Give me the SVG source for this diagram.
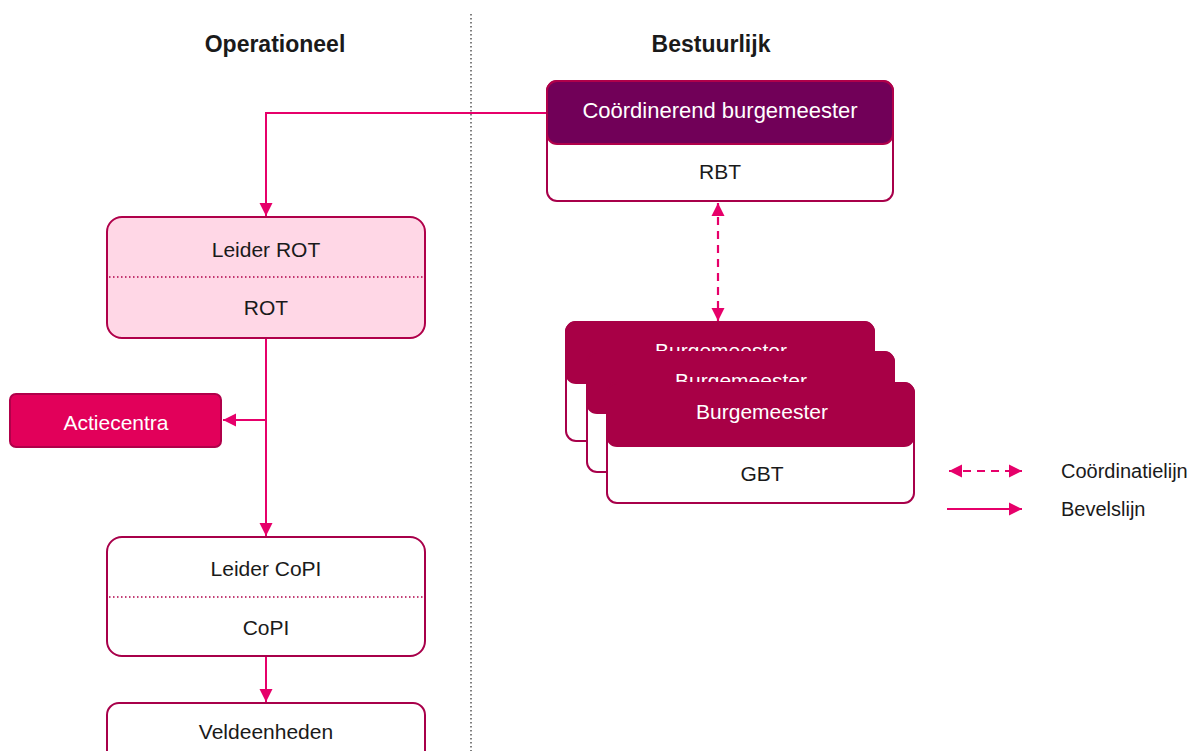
<svg xmlns="http://www.w3.org/2000/svg" width="1194" height="751" viewBox="0 0 1194 751">
<style>
text{font-family:"Liberation Sans",Arial,sans-serif;font-size:21px;fill:#1a1a1a;text-anchor:middle}
.hdr{font-weight:bold;font-size:23px}
.w{fill:#ffffff}
.leg{text-anchor:start;font-size:20px}
.body{fill:#ffffff;stroke:#a8004a;stroke-width:2}
.crim{fill:#a80046;stroke:#a80046;stroke-width:2}
.purp{fill:#710058;stroke:#b0004a;stroke-width:2}
.pale{fill:#ffd7e6;stroke:#b0004a;stroke-width:2}
.sep{stroke:#b0004a;stroke-width:1.5;stroke-dasharray:1.5 2.5;fill:none}
.ln{stroke:#e6006a;stroke-width:2;fill:none}
.dash{stroke:#e6006a;stroke-width:2.2;fill:none;stroke-dasharray:8 6}
</style>
<defs>
<marker id="ah" viewBox="0 0 10 10" refX="10" refY="5" markerWidth="13" markerHeight="14" markerUnits="userSpaceOnUse" orient="auto-start-reverse">
<path d="M0,0 L10,5 L0,10 z" fill="#e6006a"/>
</marker>
</defs>
<line x1="471" y1="14" x2="471" y2="751" stroke="#555" stroke-width="1.5" stroke-dasharray="1.5 2.5"/>
<text class="hdr" x="275" y="52">Operationeel</text>
<text class="hdr" x="711" y="52">Bestuurlijk</text>

<g id="connectors">
<path class="ln" d="M547,113 H266 V216" marker-end="url(#ah)"/>
<path class="ln" d="M266,338 V536" marker-end="url(#ah)"/>
<path class="ln" d="M266,420 H223" marker-end="url(#ah)"/>
<path class="ln" d="M266,657 V702" marker-end="url(#ah)"/>
<path class="dash" d="M718,203 V321" marker-start="url(#ah)" marker-end="url(#ah)"/>
</g>

<g id="coordinerend">
<rect class="body" x="547" y="81" width="346" height="120" rx="10"/>
<rect class="purp" x="547" y="81" width="346" height="63" rx="10"/>
<text class="w" x="720" y="118" style="font-size:22px">Coördinerend burgemeester</text>
<text x="720" y="179">RBT</text>
</g>

<g id="rot">
<rect class="pale" x="107" y="217" width="318" height="121" rx="15"/>
<line class="sep" x1="109" y1="277" x2="423" y2="277"/>
<text x="266" y="257">Leider ROT</text>
<text x="266" y="315">ROT</text>
</g>

<g id="actiecentra">
<rect x="10" y="394" width="211" height="53" rx="6" fill="#e2005a" stroke="#b0004a" stroke-width="2"/>
<text class="w" x="116" y="430">Actiecentra</text>
</g>

<g id="copi">
<rect class="body" x="107" y="537" width="318" height="119" rx="15"/>
<line class="sep" x1="109" y1="597" x2="423" y2="597"/>
<text x="266" y="576">Leider CoPI</text>
<text x="266" y="635">CoPI</text>
</g>

<g id="veldeenheden">
<rect class="body" x="107" y="703" width="318" height="70" rx="12"/>
<text x="266" y="739">Veldeenheden</text>
</g>

<g id="burgemeester1">
<rect class="body" x="566" y="322" width="308" height="119" rx="10"/>
<rect class="crim" x="566" y="322" width="308" height="61" rx="10"/>
<text class="w" x="721" y="358">Burgemeester</text>
</g>
<g id="burgemeester2">
<rect class="body" x="587" y="352" width="307" height="120" rx="10"/>
<rect class="crim" x="587" y="352" width="307" height="61" rx="10"/>
<text class="w" x="741" y="388">Burgemeester</text>
</g>
<g id="burgemeester3">
<rect class="body" x="607" y="383" width="307" height="120" rx="10"/>
<rect class="crim" x="607" y="383" width="307" height="63" rx="10"/>
<text class="w" x="762" y="419">Burgemeester</text>
<text x="762" y="481">GBT</text>
</g>

<g id="legend">
<path class="dash" d="M949,471 H1022" stroke-dasharray="8 7" marker-start="url(#ah)" marker-end="url(#ah)"/>
<path class="ln" d="M947,509 H1022" marker-end="url(#ah)"/>
<text class="leg" x="1061" y="478">Coördinatielijn</text>
<text class="leg" x="1061" y="516">Bevelslijn</text>
</g>
</svg>
